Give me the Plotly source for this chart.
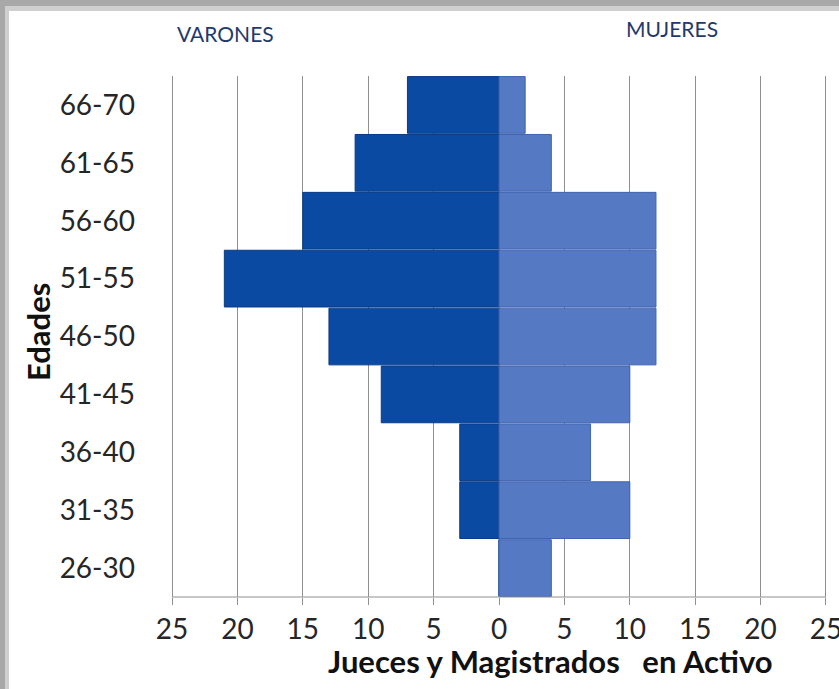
import plotly.graph_objects as go

edades = ["26-30", "31-35", "36-40", "41-45", "46-50", "51-55", "56-60", "61-65", "66-70"]
varones = [0, 3, 3, 9, 13, 21, 15, 11, 7]
mujeres = [4, 10, 7, 10, 12, 12, 12, 4, 2]
tick_vals = [-25, -20, -15, -10, -5, 0, 5, 10, 15, 20, 25]
tick_text = ["25", "20", "15", "10", "5", "0", "5", "10", "15", "20", "25"]

FONT = "Lato, Open Sans, sans-serif"

# plot area in pixels (slightly wider than the +-25 range so edge gridlines are drawn)
L, R, T, B = 169, 829, 76, 597
W, H = 839, 689
PW, PH = R - L, B - T
XR = 25.23


def px(x):
    return (x - L) / PW


def py(y):
    return (B - y) / PH


fig = go.Figure()
fig.add_trace(go.Bar(
    y=edades, x=[-v for v in varones], orientation="h", name="VARONES",
    marker=dict(color="#0B4AA3", line=dict(color="#083A85", width=1)),
))
fig.add_trace(go.Bar(
    y=edades, x=mujeres, orientation="h", name="MUJERES",
    marker=dict(color="#5679C4", line=dict(color="#3F63B0", width=1)),
))

fig.update_layout(
    width=W, height=H,
    margin=dict(l=L, r=W - R, t=T, b=H - B, autoexpand=False),
    barmode="overlay", bargap=0.02,
    paper_bgcolor="#ffffff", plot_bgcolor="rgba(0,0,0,0)",
    showlegend=False,
    font=dict(family=FONT, color="#262626"),
    xaxis=dict(
        range=[-XR, XR], tickvals=tick_vals, ticktext=tick_text,
        showgrid=True, gridcolor="#8f8f8f", gridwidth=1,
        zeroline=True, zerolinecolor="#7f7f7f", zerolinewidth=1,
        showline=False,
        ticks="outside", ticklen=7, tickcolor="#8f8f8f",
        tickfont=dict(size=28, family=FONT, color="#262626"),
        ticklabeloverflow="allow",
        fixedrange=True,
    ),
    yaxis=dict(
        categoryorder="array", categoryarray=edades,
        showline=False,
        showgrid=False, ticks="", ticklabelstandoff=33,
        tickfont=dict(size=28, family=FONT, color="#262626"),
        fixedrange=True,
    ),
    annotations=[
        dict(text="VARONES", xref="paper", yref="paper", x=px(225), y=py(34),
             showarrow=False, font=dict(size=21, family=FONT, color="#1F3A6B"),
             xanchor="center", yanchor="middle"),
        dict(text="MUJERES", xref="paper", yref="paper", x=px(672), y=py(29),
             showarrow=False, font=dict(size=21, family=FONT, color="#1F3A6B"),
             xanchor="center", yanchor="middle"),
        dict(text="<b>Jueces y Magistrados   en Activo</b>", xref="paper", yref="paper",
             x=px(550), y=py(661), showarrow=False,
             font=dict(size=31, family=FONT, color="#111111"),
             xanchor="center", yanchor="middle"),
        dict(text="<b>Edades</b>", xref="paper", yref="paper", textangle=-90,
             x=px(38), y=py(332), showarrow=False,
             font=dict(size=31, family=FONT, color="#111111"),
             xanchor="center", yanchor="middle"),
    ],
)

# bottom axis line spanning exactly the -25..25 range
fig.add_shape(type="line", xref="x", yref="paper", x0=-25, x1=25, y0=0, y1=0,
              line=dict(color="#8f8f8f", width=1), layer="above")

# frame: grey border on left and top like the reference screenshot
fig.add_shape(type="rect", xref="paper", yref="paper",
              x0=px(0), x1=px(W), y0=py(H), y1=py(0),
              fillcolor="#a8a8a8", line=dict(width=0), layer="below")
fig.add_shape(type="rect", xref="paper", yref="paper",
              x0=px(5), x1=px(W), y0=py(H), y1=py(6),
              fillcolor="#cfcfcf", line=dict(width=0), layer="below")
fig.add_shape(type="rect", xref="paper", yref="paper",
              x0=px(9), x1=px(W), y0=py(H), y1=py(11),
              fillcolor="#ffffff", line=dict(width=0), layer="below")

fig.write_html("out.html", config={"displayModeBar": False},
               post_script="document.body.style.margin='0';document.body.style.overflow='hidden';")
